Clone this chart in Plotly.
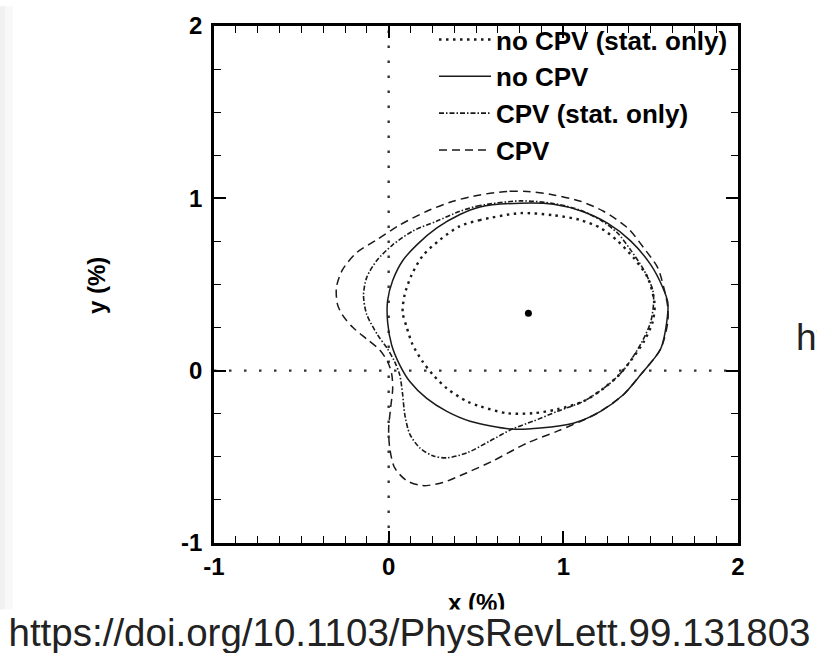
import plotly.graph_objects as go

# ---------------- data ----------------
x_tick_vals = [-1, 0, 1, 2]
x_tick_text = ["-1", "0", "1", "2"]
y_tick_vals = [-1, 0, 1, 2]
y_tick_text = ["-1", "0", "1", "2"]
axis_range = [-1, 2]

series_names = ["no CPV (stat. only)", "no CPV", "CPV (stat. only)", "CPV"]

# no CPV (stat. only) contour
nocpv_stat_x = [0.753, 0.523, 0.408, 0.293, 0.195, 0.132, 0.092, 0.080, 0.103, 0.138, 0.195, 0.253,
                0.333, 0.448, 0.523, 0.678, 0.828, 0.966, 1.115, 1.230, 1.310, 1.368, 1.460, 1.511,
                1.523, 1.517, 1.483, 1.402, 1.310, 1.213, 1.098, 0.943, 0.753]
nocpv_stat_y = [0.914, 0.874, 0.839, 0.759, 0.667, 0.557, 0.443, 0.339, 0.253, 0.149, 0.052, -0.023,
                -0.103, -0.178, -0.207, -0.247, -0.247, -0.224, -0.178, -0.103, -0.034, 0.034, 0.167, 0.282,
                0.368, 0.425, 0.540, 0.655, 0.753, 0.828, 0.874, 0.902, 0.914]

# no CPV contour
nocpv_x = [0.753, 0.523, 0.408, 0.276, 0.161, 0.080, 0.023, -0.006, -0.006, 0.017, 0.063, 0.121,
           0.218, 0.333, 0.466, 0.707, 0.868, 1.057, 1.213, 1.345, 1.443, 1.557, 1.592, 1.598,
           1.569, 1.500, 1.385, 1.253, 1.098, 0.943, 0.753]
nocpv_y = [0.972, 0.950, 0.906, 0.828, 0.730, 0.638, 0.523, 0.408, 0.282, 0.149, 0.034, -0.063,
           -0.161, -0.236, -0.293, -0.339, -0.333, -0.305, -0.236, -0.138, -0.023, 0.126, 0.282, 0.397,
           0.483, 0.615, 0.753, 0.856, 0.928, 0.966, 0.972]

# CPV (stat. only) contour
cpv_stat_x = [0.753, 0.523, 0.408, 0.276, 0.138, 0.023, -0.069, -0.126, -0.144, -0.126, -0.063, -0.006,
              0.034, 0.063, 0.080, 0.092, 0.121, 0.178, 0.253, 0.333, 0.448, 0.580, 0.707, 0.828,
              0.966, 1.115, 1.230, 1.310, 1.368, 1.450, 1.500, 1.517, 1.511, 1.460, 1.385, 1.310,
              1.213, 1.098, 0.943, 0.753]
cpv_stat_y = [0.985, 0.958, 0.925, 0.868, 0.810, 0.730, 0.638, 0.540, 0.437, 0.328, 0.207, 0.126,
              0.052, -0.023, -0.138, -0.253, -0.368, -0.448, -0.494, -0.506, -0.477, -0.408, -0.339, -0.293,
              -0.236, -0.178, -0.103, -0.034, 0.034, 0.167, 0.282, 0.397, 0.471, 0.586, 0.701, 0.799,
              0.874, 0.931, 0.970, 0.985]

# CPV contour
cpv_x = [0.793, 0.678, 0.523, 0.368, 0.218, 0.063, -0.069, -0.184, -0.264, -0.299, -0.293, -0.264,
         -0.207, -0.126, -0.052, -0.006, 0.017, 0.023, 0.011, 0.000, 0.006, 0.034, 0.103, 0.195,
         0.310, 0.448, 0.598, 0.793, 0.966, 1.138, 1.213, 1.345, 1.443, 1.557, 1.598, 1.598,
         1.575, 1.540, 1.460, 1.368, 1.230, 1.098, 0.943, 0.793]
cpv_y = [1.040, 1.040, 1.020, 0.983, 0.925, 0.845, 0.759, 0.684, 0.586, 0.483, 0.385, 0.322,
         0.253, 0.184, 0.121, 0.052, -0.017, -0.103, -0.218, -0.333, -0.448, -0.563, -0.638, -0.667,
         -0.649, -0.592, -0.523, -0.420, -0.351, -0.276, -0.236, -0.138, -0.023, 0.126, 0.282, 0.368,
         0.483, 0.598, 0.713, 0.828, 0.925, 0.983, 1.020, 1.040]

best_fit_x = [0.80]
best_fit_y = [0.333]

zero_value = [0, 0]

# ---------------- figure ----------------
ink = "#1a1a1a"
fig = go.Figure()

# dotted reference lines at x = 0 and y = 0
fig.add_trace(go.Scatter(x=zero_value, y=axis_range, mode="lines", showlegend=False,
                         line=dict(color="#333333", width=2.4, dash="2.5px,12.5px"), hoverinfo="skip"))
fig.add_trace(go.Scatter(x=axis_range, y=zero_value, mode="lines", showlegend=False,
                         line=dict(color="#333333", width=2.4, dash="2.5px,12.5px"), hoverinfo="skip"))

styles = [
    dict(width=2.4, dash="2.5px,4.5px"),
    dict(width=1.5, dash="solid"),
    dict(width=1.6, dash="5px,2px,1.5px,2px"),
    dict(width=1.5, dash="8px,5px"),
]
data = [(nocpv_stat_x, nocpv_stat_y), (nocpv_x, nocpv_y), (cpv_stat_x, cpv_stat_y), (cpv_x, cpv_y)]
for (xs, ys), name, st in zip(data, series_names, styles):
    fig.add_trace(go.Scatter(x=xs, y=ys, mode="lines", name=name,
                             line=dict(color=ink, shape="spline", smoothing=0.8, **st)))

fig.add_trace(go.Scatter(x=best_fit_x, y=best_fit_y, mode="markers", showlegend=False,
                         marker=dict(color="black", size=7)))

tick_font = dict(family="Liberation Sans, Arial, sans-serif", size=24, color="black", weight="bold")
common_axis = dict(range=axis_range, showgrid=False, zeroline=False, showline=True, linecolor="black",
                   linewidth=2.6, mirror="ticks", ticks="inside", ticklen=12, tickwidth=1.6,
                   tickcolor="black", tickfont=tick_font, tickmode="array")

fig.update_xaxes(**common_axis, tickvals=x_tick_vals, ticktext=x_tick_text,
                 minor=dict(ticks="inside", ticklen=7, tickwidth=1.3, tickcolor="black",
                            tickmode="linear", tick0=0, dtick=0.125, showgrid=False))
fig.update_yaxes(**common_axis, tickvals=y_tick_vals, ticktext=y_tick_text, ticklabelstandoff=4,
                 minor=dict(ticks="inside", ticklen=7, tickwidth=1.3, tickcolor="black",
                            tickmode="linear", tick0=0, dtick=0.25, showgrid=False))

L, R, T, B = 214, 79, 20, 110
W, H = 817, 653
pw, ph = W - L - R, H - T - B

def px_x(p):
    return (p - L) / pw

def px_y(p):
    return (H - B - p) / ph

fig.update_layout(
    width=W, height=H,
    margin=dict(l=L, r=R, t=T, b=B, pad=0),
    paper_bgcolor="white", plot_bgcolor="white",
    showlegend=True,
    legend=dict(x=px_x(434), y=px_y(10), xanchor="left", yanchor="top",
                bgcolor="rgba(0,0,0,0)", borderwidth=0, tracegroupgap=0, itemwidth=52,
                font=dict(family="Liberation Sans, Arial, sans-serif", size=26, color="black", weight="bold")),
    shapes=[
        dict(type="rect", xref="paper", yref="paper", x0=px_x(0), x1=px_x(5), y0=px_y(653), y1=px_y(0),
             fillcolor="#f1f1f1", line=dict(width=0), layer="below"),
        dict(type="rect", xref="paper", yref="paper", x0=px_x(5), x1=px_x(13), y0=px_y(653), y1=px_y(0),
             fillcolor="#f8f8f8", line=dict(width=0), layer="below"),
    ],
    annotations=[
        dict(text="y (%)", textangle=-90, xref="paper", yref="paper", x=px_x(97), y=px_y(283),
             showarrow=False, xanchor="center", yanchor="middle",
             font=dict(family="Liberation Sans, Arial, sans-serif", size=24, color="black", weight="bold")),
        dict(text="x (%)", xref="paper", yref="paper", x=px_x(476), y=px_y(603),
             showarrow=False, xanchor="center", yanchor="middle",
             font=dict(family="Liberation Sans, Arial, sans-serif", size=24, color="black", weight="bold")),
        dict(text="https://doi.org/10.1103/PhysRevLett.99.131803", xref="paper", yref="paper",
             x=px_x(409), y=px_y(633), showarrow=False, xanchor="center", yanchor="middle",
             width=817, height=42, bgcolor="white", align="center",
             font=dict(family="Liberation Sans, Arial, sans-serif", size=38.5, color="#222222")),
        dict(text="ht", xref="paper", yref="paper", x=px_x(794), y=px_y(335), showarrow=False,
             xanchor="left", yanchor="middle",
             font=dict(family="Liberation Sans, Arial, sans-serif", size=37, color="#222222")),
    ],
)

fig.write_html("out.html")
